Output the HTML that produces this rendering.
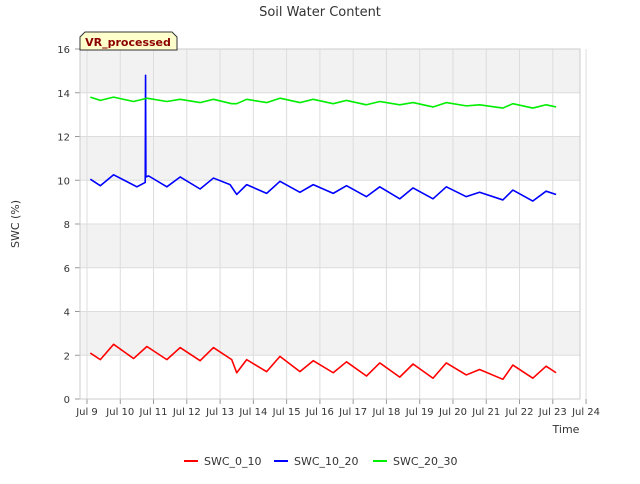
<!DOCTYPE html>
<html><head><meta charset="utf-8"><style>
body{margin:0;background:#fff;font-family:"DejaVu Sans","Liberation Sans",sans-serif;}
</style></head><body>
<svg id="c" width="640" height="480" xmlns="http://www.w3.org/2000/svg" font-family="DejaVu Sans, Liberation Sans, sans-serif">
<text x="320" y="16" text-anchor="middle" font-size="13" fill="#333">Soil Water Content</text>
<g id="bands"></g>
<g id="grid"></g>
<g id="series"></g>
<g id="axes"></g>
<text x="19" y="224" text-anchor="middle" font-size="11" fill="#333" transform="rotate(-90 19 224)">SWC (%)</text>
<text x="566" y="433" text-anchor="middle" font-size="11" fill="#333">Time</text>
<g>
<path d="M80,50 L80,37 L85,32 L172,32 L177,37 L177,50 Z" fill="#ffffcc" stroke="#333" stroke-width="1"/>
<text x="128" y="46" text-anchor="middle" font-size="11" font-weight="bold" fill="#8b0000">VR_processed</text>
</g>
<g id="legend"></g>
</svg>
<script>
const tA=[9.1,9.4,9.8,10.4,10.8,11.4,11.8,12.4,12.8,13.35,13.5,13.8,14.4,14.8,15.4,15.8,16.4,16.8,17.4,17.8,18.4,18.8,19.4,19.8,20.4,20.8,21.5,21.8,22.4,22.8,23.1];
const swc0=[2.1,1.8,2.5,1.85,2.4,1.8,2.35,1.75,2.35,1.8,1.2,1.8,1.25,1.95,1.25,1.75,1.2,1.7,1.05,1.65,1.0,1.6,0.95,1.65,1.1,1.35,0.9,1.55,0.95,1.5,1.2];
const swc20=[13.8,13.65,13.8,13.6,13.75,13.6,13.7,13.55,13.7,13.5,13.5,13.7,13.55,13.75,13.55,13.7,13.5,13.65,13.45,13.6,13.45,13.55,13.35,13.55,13.4,13.45,13.3,13.5,13.3,13.45,13.35];
const tB=[9.1,9.4,9.8,10.5,10.75,10.76,10.77,10.85,11.4,11.8,12.4,12.8,13.3,13.5,13.8,14.4,14.8,15.4,15.8,16.4,16.8,17.4,17.8,18.4,18.8,19.4,19.8,20.4,20.8,21.5,21.8,22.4,22.8,23.1];
const swc10=[10.05,9.75,10.25,9.7,9.9,14.8,10.15,10.2,9.7,10.15,9.6,10.1,9.8,9.35,9.8,9.4,9.95,9.45,9.8,9.4,9.75,9.25,9.7,9.15,9.65,9.15,9.7,9.25,9.45,9.1,9.55,9.05,9.5,9.35];
const yTicks=[0,2,4,6,8,10,12,14,16];
const xTicks=[9,10,11,12,13,14,15,16,17,18,19,20,21,22,23,24];
const L=80,R=580,T=49,B=399;
const xs=d=>87+(d-9)*33.27, ys=v=>B-(v/16)*(B-T);
const NS="http://www.w3.org/2000/svg";
function mk(p,tag,at){const e=document.createElementNS(NS,tag);for(const k in at)e.setAttribute(k,at[k]);document.getElementById(p).appendChild(e);return e;}
for(let v=2;v<16;v+=4){const r=mk('bands','rect',{x:L,y:ys(v+2),width:R-L,height:ys(v)-ys(v+2),fill:'#f2f2f2'});

}
yTicks.forEach(v=>{const l=mk('grid','line',{x1:L,x2:R,y1:ys(v),y2:ys(v),stroke:'#ddd'});


const t=mk('axes','text',{x:L-10,y:ys(v)+4,'text-anchor':'end','font-size':10,fill:'#333'});t.textContent=v;


mk('axes','line',{x1:L-5,x2:L,y1:ys(v),y2:ys(v),stroke:'#999'});});
xTicks.forEach(d=>{const x=xs(d);const l=mk('grid','line',{x1:x,x2:x,y1:T,y2:B,stroke:'#ddd'});


mk('axes','line',{x1:x,x2:x,y1:B,y2:B+5,stroke:'#999'});
const t=mk('axes','text',{x:x,y:B+16,'text-anchor':'middle','font-size':10,fill:'#333'});t.textContent='Jul '+d;

});
mk('axes','rect',{x:L,y:T,width:R-L,height:B-T,fill:'none',stroke:'#ccc'});
function line(t,v,c,name){const p=mk('series','polyline',{points:t.map((d,i)=>xs(d)+','+ys(v[i])).join(' '),fill:'none',stroke:c,'stroke-width':1.6,'stroke-linejoin':'round'});

}
line(tA,swc0,'#ff0000','series-swc-0-10');
line(tB,swc10,'#0000ff','series-swc-10-20');
line(tA,swc20,'#00ee00','series-swc-20-30');
[['SWC_0_10','#ff0000',184],['SWC_10_20','#0000ff',274],['SWC_20_30','#00ee00',373]].forEach(([n,c,x])=>{
mk('legend','line',{x1:x,x2:x+14,y1:461,y2:461,stroke:c,'stroke-width':2});
const t=mk('legend','text',{x:x+20,y:465,'font-size':11,fill:'#333'});t.textContent=n;

});
</script>
</body></html>
